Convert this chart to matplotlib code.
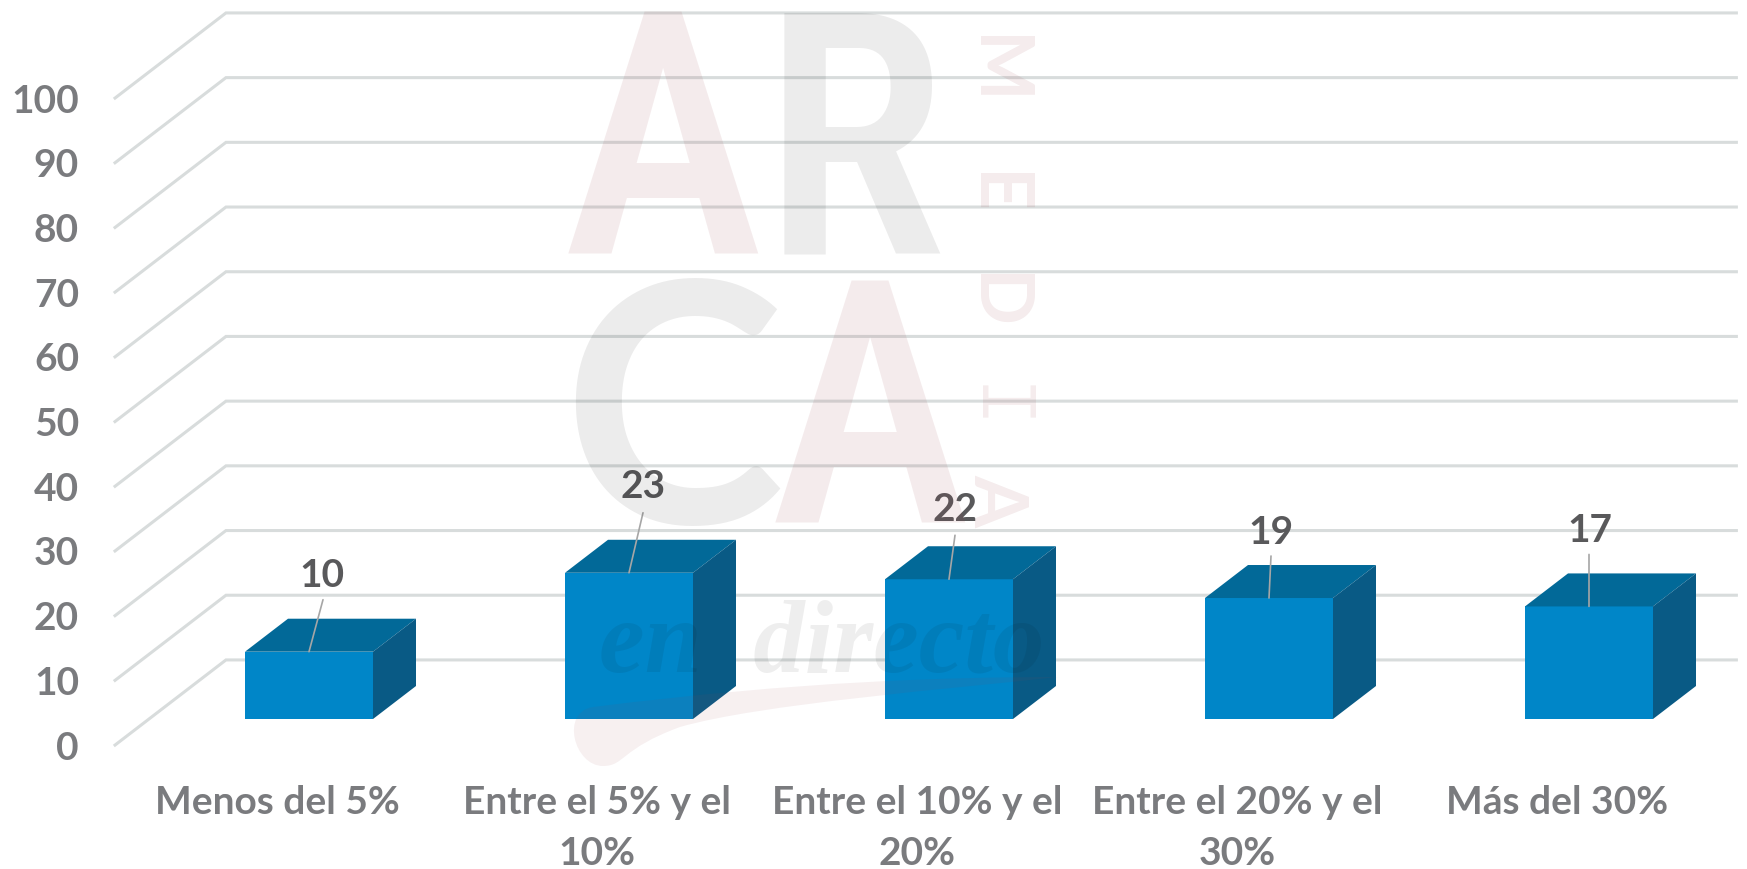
import matplotlib
matplotlib.use("Agg")
import matplotlib.pyplot as plt
from matplotlib.patches import PathPatch, Polygon
from matplotlib.path import Path

# datos del grafico
categories = ["Menos del 5%", "Entre el 5% y el\n10%", "Entre el 10% y el\n20%",
              "Entre el 20% y el\n30%", "Más del 30%"]
values = [10.4, 22.6, 21.6, 18.7, 17.4]
value_labels = ["10", "23", "22", "19", "17"]
y_ticks = [0, 10, 20, 30, 40, 50, 60, 70, 80, 90, 100]

W, H = 1747, 870
FONT = ["Lato", "DejaVu Sans"]
TEXT_SIZE = 28

# escala del plano frontal de las barras
PX_PER_CAT = 320
PX_PER_VAL = 6.47
BAR_WIDTH = 0.4
DEPTH_X = 43 / PX_PER_CAT
DEPTH_Y = 33 / PX_PER_VAL
FLOOR_FRONT = -0.79
FLOOR_BACK = 1.79
WALL_LEFT = -0.5
WALL_RIGHT = 4.22

# desplazamientos en pixeles: etiqueta y linea guia
label_dx = [13, 14, 6, 2, 1]
label_dy = [77, 87, 71, 67, 77]
leader_top = [52, 60, 44, 42, 52]
leader_tilt = [12, 12, 4, 0, 0]
leader_foot = [2, 2, 2, 2, 0]


def project(x, v, depth):
    return x + depth * DEPTH_X, v + depth * DEPTH_Y


def draw_grid(ax):
    for v in y_ticks:
        pts = [project(WALL_LEFT, v, FLOOR_FRONT), project(WALL_LEFT, v, FLOOR_BACK),
               project(WALL_RIGHT, v, FLOOR_BACK)]
        ax.plot(*zip(*pts), color="#d8dcdc", lw=2.2, solid_joinstyle="miter", zorder=1)
        lx, ly = pts[0]
        ax.annotate(str(v), (lx, ly), xytext=(-36, -2), textcoords="offset pixels", ha="right",
                    va="center", fontsize=TEXT_SIZE, fontweight="bold", color="#7a7b7e", family=FONT)


def draw_bars(ax):
    xs = range(len(values))
    ax.bar(xs, values, width=BAR_WIDTH, color="#0086c8", zorder=3)
    for i, v in zip(xs, values):
        left, right = i - BAR_WIDTH / 2, i + BAR_WIDTH / 2
        top = [(left, v), (right, v), project(right, v, 1), project(left, v, 1)]
        side = [(right, 0), (right, v), project(right, v, 1), project(right, 0, 1)]
        ax.add_patch(Polygon(top, color="#026998", lw=0, zorder=3))
        ax.add_patch(Polygon(side, color="#095a85", lw=0, zorder=3))


def draw_labels(ax):
    for i, v in enumerate(values):
        ax.annotate("", xy=(i, v), xytext=(leader_foot[i] + leader_tilt[i], leader_top[i]),
                    textcoords="offset pixels",
                    arrowprops=dict(arrowstyle="-", color="#a6a6a6", lw=1.2, shrinkA=0, shrinkB=0),
                    zorder=4)
        ax.annotate(value_labels[i], (i, v), xytext=(label_dx[i], label_dy[i]),
                    textcoords="offset pixels", ha="center", va="center", fontsize=TEXT_SIZE,
                    fontweight="bold", color="#59595b", family=FONT, zorder=5)
    for i, name in enumerate(categories):
        x, _ = project(i, 0, FLOOR_FRONT)
        ax.annotate(name, (x, 0), xytext=(2, -65), textcoords="offset pixels", ha="center",
                    va="top", fontsize=TEXT_SIZE, fontweight="bold", color="#7a7b7e", family=FONT,
                    linespacing=1.55)


def draw_watermark(fig):
    wm = fig.add_axes([0, 0, 1, 1], facecolor="none")
    wm.set_xlim(0, W)
    wm.set_ylim(H, 0)
    wm.axis("off")
    gray = dict(color="black", alpha=0.075)
    pink = dict(color="#9b414b", alpha=0.1)
    big = dict(family="Roboto Condensed", fontweight=500, fontsize=244,
               ha="center", va="baseline")
    wm.text(663, 254, "A", **big, **pink)
    wm.text(853, 254, "R", **big, **gray)
    wm.text(673, 523, "C", family="Lato", fontweight="bold", fontsize=241, ha="center",
            va="baseline", **gray)
    wm.text(870, 523, "A", **big, **pink)
    for letter, y in zip("MEDIA", [70, 194, 302, 407, 500]):
        family = "Roboto Mono" if letter == "I" else FONT
        wm.text(996, y, letter, family=family, fontweight="bold", fontsize=54, rotation=-90,
                ha="center", va="center", **pink)
    wm.text(822, 672, "en  directo", family="Liberation Serif", style="italic", fontweight="bold",
            fontsize=74, ha="center", va="baseline", color="black", alpha=0.065)
    swoosh = Path([(1058, 678), (950, 678), (800, 682), (593, 708), (560, 713), (574, 767),
                   (603, 767), (625, 767), (620, 750), (680, 728), (760, 705), (950, 690),
                   (1058, 678)],
                  [Path.MOVETO] + [Path.CURVE4] * 12)
    wm.add_patch(PathPatch(swoosh, facecolor="#9b414b", alpha=0.08, lw=0))


def main():
    fig = plt.figure(figsize=(W / 100, H / 100), dpi=100)
    ax = fig.add_axes([0, 0, 1, 1])
    ax.set_xlim(-309 / PX_PER_CAT, (W - 309) / PX_PER_CAT)
    ax.set_ylim((720 - H) / PX_PER_VAL, 720 / PX_PER_VAL)
    ax.axis("off")

    draw_grid(ax)
    draw_bars(ax)
    draw_labels(ax)
    draw_watermark(fig)

    fig.savefig("out.png", dpi=100)


if __name__ == "__main__":
    main()
